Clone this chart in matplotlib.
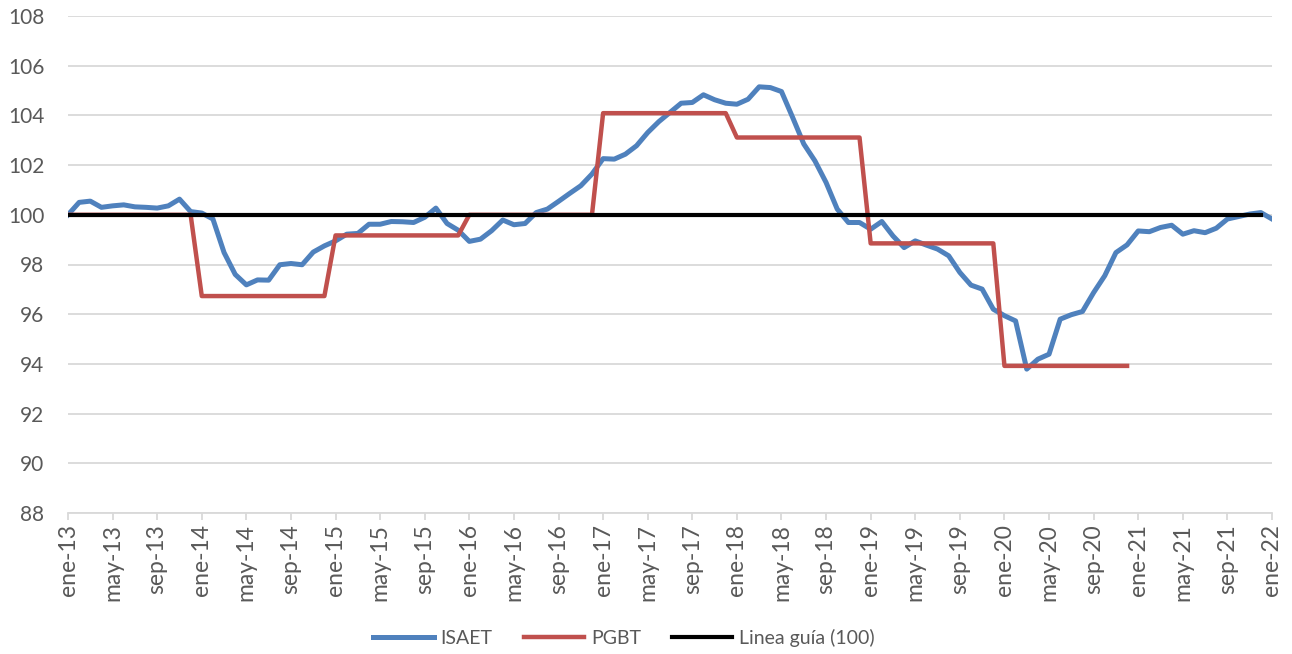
import numpy as np
import matplotlib
matplotlib.use('Agg')
import matplotlib.pyplot as plt

plt.rcParams['font.family'] = ['Lato', 'DejaVu Sans']

# monthly index ene-13 .. ene-22
isaet = [
    100.00, 100.50, 100.55, 100.30, 100.36, 100.40, 100.32, 100.30, 100.27, 100.36, 100.63, 100.13,  # 2013
    100.07, 99.83, 98.48, 97.60, 97.18, 97.38, 97.37, 97.99, 98.04, 97.99, 98.50, 98.75,            # 2014
    98.95, 99.22, 99.25, 99.62, 99.62, 99.73, 99.72, 99.69, 99.90, 100.27, 99.65, 99.38,            # 2015
    98.93, 99.02, 99.36, 99.79, 99.60, 99.65, 100.09, 100.23, 100.54, 100.86, 101.17, 101.64,       # 2016
    102.26, 102.24, 102.44, 102.78, 103.31, 103.75, 104.12, 104.49, 104.52, 104.83, 104.63, 104.49, # 2017
    104.45, 104.65, 105.15, 105.12, 104.96, 103.92, 102.85, 102.17, 101.30, 100.23, 99.69, 99.69,   # 2018
    99.42, 99.73, 99.15, 98.68, 98.95, 98.78, 98.62, 98.35, 97.68, 97.17, 97.01, 96.20,             # 2019
    95.94, 95.73, 93.79, 94.19, 94.39, 95.80, 95.98, 96.11, 96.87, 97.55, 98.48, 98.79,             # 2020
    99.35, 99.32, 99.49, 99.58, 99.22, 99.36, 99.28, 99.46, 99.83, 99.93, 100.03, 100.09,           # 2021
    99.83,                                                                                          # ene-22
]

pgbt = [
    100.00, 100.00, 100.00, 100.00, 100.00, 100.00, 100.00, 100.00, 100.00, 100.00, 100.00, 100.00,
    96.73, 96.73, 96.73, 96.73, 96.73, 96.73, 96.73, 96.73, 96.73, 96.73, 96.73, 96.73,
    99.17, 99.17, 99.17, 99.17, 99.17, 99.17, 99.17, 99.17, 99.17, 99.17, 99.17, 99.17,
    100.00, 100.00, 100.00, 100.00, 100.00, 100.00, 100.00, 100.00, 100.00, 100.00, 100.00, 100.00,
    104.09, 104.09, 104.09, 104.09, 104.09, 104.09, 104.09, 104.09, 104.09, 104.09, 104.09, 104.09,
    103.11, 103.11, 103.11, 103.11, 103.11, 103.11, 103.11, 103.11, 103.11, 103.11, 103.11, 103.11,
    98.85, 98.85, 98.85, 98.85, 98.85, 98.85, 98.85, 98.85, 98.85, 98.85, 98.85, 98.85,
    93.92, 93.92, 93.92, 93.92, 93.92, 93.92, 93.92, 93.92, 93.92, 93.92, 93.92, 93.92,
]

guide = [100.0] * 108

tick_labels = [
    'ene-13', 'may-13', 'sep-13', 'ene-14', 'may-14', 'sep-14', 'ene-15',
    'may-15', 'sep-15', 'ene-16', 'may-16', 'sep-16', 'ene-17', 'may-17',
    'sep-17', 'ene-18', 'may-18', 'sep-18', 'ene-19', 'may-19', 'sep-19',
    'ene-20', 'may-20', 'sep-20', 'ene-21', 'may-21', 'sep-21', 'ene-22',
]

x = np.arange(len(isaet))

fig = plt.figure(figsize=(12.92, 6.54), dpi=100)
ax = fig.add_axes([68/1292, 1 - 513/654, (1272 - 68)/1292, (513 - 16)/654])

ax.plot(x, isaet, color='#4F81BD', lw=3.6, label='ISAET', solid_joinstyle='round', zorder=3)
ax.plot(x[:len(pgbt)], pgbt, color='#C0504D', lw=3.2, label='PGBT', solid_joinstyle='round', zorder=4)
ax.plot(x[:len(guide)], guide, color='black', lw=3.0, label='Linea guía (100)', zorder=5)

ax.set_xlim(0, len(isaet) - 1)
ax.set_ylim(88, 108)
ax.set_yticks(np.arange(88, 109, 2))
ax.set_xticks(x[::4])
ax.set_xticklabels(tick_labels, rotation=90)

ax.grid(axis='y', color='#D9D9D9', lw=1.3)
ax.set_axisbelow(True)
for s in ['top', 'right', 'left']:
    ax.spines[s].set_visible(False)
ax.spines['bottom'].set_color('#D9D9D9')
ax.spines['bottom'].set_linewidth(1.3)

ax.tick_params(axis='y', length=0, pad=17, labelsize=15, labelcolor='#595959')
ax.tick_params(axis='x', length=5, width=1.3, color='#D9D9D9', pad=3,
               labelsize=16.5, labelcolor='#595959')

fig.legend(loc='center', bbox_to_anchor=(0.483, 0.025), ncol=3, frameon=False,
           fontsize=14, labelcolor='#595959', handlelength=3.1, handletextpad=0.35,
           columnspacing=1.6)

fig.savefig('out.png', dpi=100)
